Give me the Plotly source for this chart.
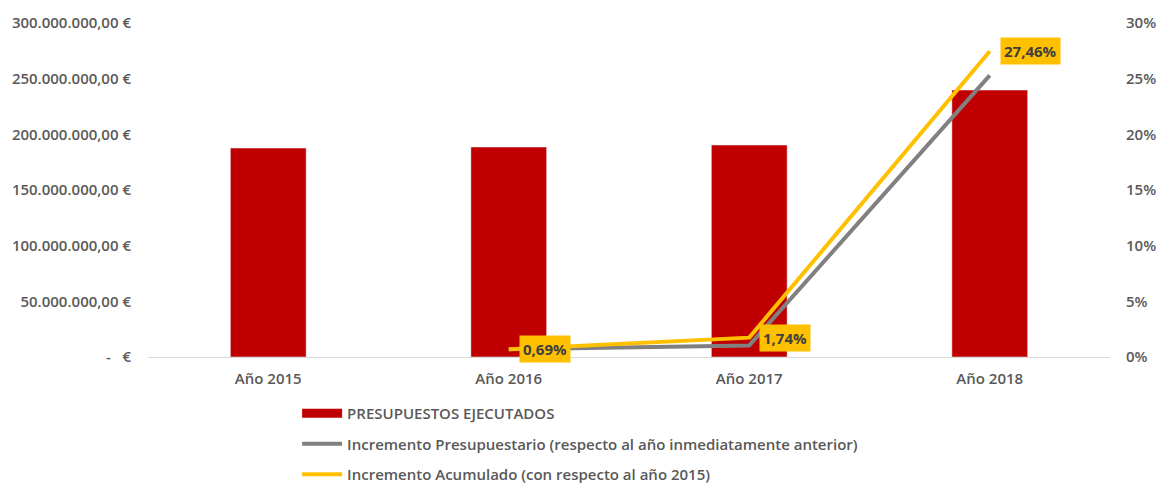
import plotly.graph_objects as go

years = ["Año 2015", "Año 2016", "Año 2017", "Año 2018"]
presupuestos = [187.7e6, 188.6e6, 190.4e6, 239.8e6]
inc_years = ["Año 2016", "Año 2017", "Año 2018"]
inc_presupuestario = [0.69, 1.04, 25.3]
inc_acumulado = [0.69, 1.74, 27.46]
acum_labels = ["0,69%", "1,74%", "27,46%"]

left_vals = [0, 50e6, 100e6, 150e6, 200e6, 250e6, 300e6]
left_text = ["-   €", "50.000.000,00 €", "100.000.000,00 €", "150.000.000,00 €",
             "200.000.000,00 €", "250.000.000,00 €", "300.000.000,00 €"]
right_vals = [0, 5, 10, 15, 20, 25, 30]
right_text = ["0%", "5%", "10%", "15%", "20%", "25%", "30%"]

FONT = "Open Sans"
TXT = "#595959"
FS = 15

fig = go.Figure()
fig.add_trace(go.Bar(x=years, y=presupuestos, name="PRESUPUESTOS EJECUTADOS",
                     marker_color="#C00000", width=0.315, showlegend=False))
# legend entry for bars shown as a wide rectangle (no data)
fig.add_trace(go.Scatter(x=[None], y=[None], mode="lines",
                         line=dict(color="#C00000", width=9),
                         name="PRESUPUESTOS EJECUTADOS", legendgroup="a"))
fig.add_trace(go.Scatter(x=inc_years, y=inc_presupuestario, yaxis="y2", mode="lines",
                         line=dict(color="#808080", width=4),
                         name="Incremento Presupuestario (respecto al año inmediatamente anterior)",
                         legendgroup="b"))
fig.add_trace(go.Scatter(x=inc_years, y=inc_acumulado, yaxis="y2", mode="lines",
                         line=dict(color="#FFC000", width=4),
                         name="Incremento Acumulado (con respecto al año 2015)",
                         legendgroup="c"))

for xv, yv, t in zip(inc_years, inc_acumulado, acum_labels):
    fig.add_annotation(x=xv, y=yv, yref="y2", text="<b>" + t + "</b>", showarrow=False,
                       xanchor="left", yanchor="middle", xshift=10,
                       bgcolor="#FFC000", borderpad=3,
                       font=dict(family=FONT, size=FS, color="#404040"))

tf = dict(family=FONT, size=FS, color=TXT, weight=600)
fig.update_layout(
    width=1165, height=485,
    margin=dict(l=140, r=63, t=15, b=136, autoexpand=False),
    plot_bgcolor="white", paper_bgcolor="white",
    font=tf,
    bargap=0.685,
    xaxis=dict(showline=True, linecolor="#D9D9D9", linewidth=1, ticks="",
               tickfont=tf, automargin=False, ticklabelstandoff=8),
    yaxis=dict(range=[0, 300e6], tickvals=left_vals, ticktext=left_text,
               showgrid=False, zeroline=False, showline=False,
               tickfont=tf, automargin=False, ticklabelstandoff=16),
    yaxis2=dict(range=[0, 30], overlaying="y", side="right", tickvals=right_vals,
                ticktext=right_text, showgrid=False, zeroline=False, showline=False,
                tickfont=tf, automargin=False, ticklabelstandoff=15),
    legend=dict(orientation="v", x=0.155, y=0.198, yref="container",
                xanchor="left", yanchor="top",
                tracegroupgap=8, itemwidth=40,
                font=tf),
    showlegend=True,
)

fig.write_html("out.html")
